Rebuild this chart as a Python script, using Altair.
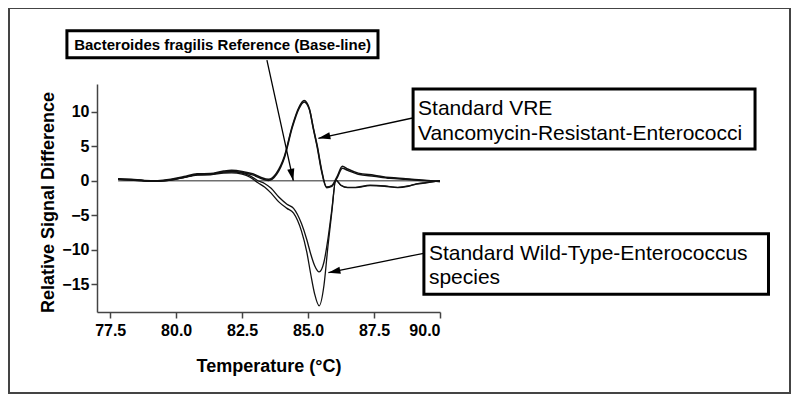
import math
import altair as alt
import pandas as pd

# ---------------- data ----------------
T_VRE = [77.8, 78.3, 78.8, 79.3, 79.8, 80.3, 80.8, 81.3, 81.8, 82.1, 82.5, 82.9, 83.2, 83.5,
         83.8, 84.1, 84.4, 84.65, 84.85, 85.05, 85.2, 85.35, 85.5, 85.7, 85.9, 86.1, 86.3,
         86.5, 86.9, 87.5, 88.1, 88.7, 89.3, 90.0]
VRE_A = [0.3, 0.2, 0.05, 0.0, 0.2, 0.6, 1.0, 1.05, 1.4, 1.5, 1.35, 1.0, 0.5, 0.2,
         1.1, 3.5, 7.9, 10.6, 11.6, 10.4, 7.6, 5.0, 1.8, -0.9, -0.7, 0.6, 2.1,
         1.7, 1.1, 0.8, 0.45, 0.3, 0.1, -0.1]
VRE_B = [0.2, 0.1, 0.0, -0.05, 0.1, 0.5, 0.9, 0.95, 1.25, 1.35, 1.2, 0.85, 0.35, 0.05,
         0.9, 3.3, 7.7, 10.4, 11.4, 10.3, 7.5, 4.8, 1.6, -1.0, -0.8, 0.4, 1.8,
         1.5, 0.95, 0.65, 0.35, 0.2, 0.05, -0.1]

T_WT = [77.8, 78.3, 78.8, 79.3, 79.8, 80.3, 80.8, 81.3, 81.8, 82.1, 82.5, 82.8, 83.1, 83.35,
        83.6, 83.9, 84.2, 84.45, 84.75, 84.95, 85.1, 85.25, 85.42, 85.6, 85.75, 85.9, 86.05,
        86.25, 86.5, 86.8, 87.35, 87.9, 88.4, 88.8, 89.1, 89.5, 90.0]
WT_A = [0.25, 0.15, 0.0, -0.05, 0.15, 0.5, 0.9, 0.95, 1.25, 1.3, 1.1, 0.7, 0.0, -0.4,
        -1.1, -2.4, -3.4, -4.0, -6.2, -8.5, -10.6, -12.3, -13.2, -11.8, -8.5, -4.2, 0.1,
        -0.7, -1.0, -1.0, -0.7, -0.8, -1.0, -0.8, -0.5, -0.3, 0.0]
WT_B = [0.2, 0.1, -0.05, -0.1, 0.1, 0.45, 0.8, 0.85, 1.1, 1.15, 0.95, 0.5, -0.3, -0.9,
        -1.8, -3.1, -4.0, -4.7, -7.3, -10.3, -13.5, -16.4, -18.1, -15.2, -9.6, -4.5, 0.1,
        -0.65, -0.95, -0.95, -0.65, -0.75, -0.95, -0.75, -0.45, -0.25, 0.0]

T_BASE = [77.8, 90.0]
BASE = [0.0, 0.0]

X_TICKS = [77.5, 80.0, 82.5, 85.0, 87.5, 90.0]
Y_TICKS = [-15, -10, -5, 0, 5, 10]
X_DOMAIN = [77, 90]
Y_DOMAIN = [-19, 14]

# annotation boxes (data units): x, x2, y, y2
BOX_X = [75.86, 88.98, 89.39]
BOX_X2 = [87.65, 101.94, 102.45]
BOX_Y = [21.70, 13.28, -7.68]
BOX_Y2 = [17.79, 4.59, -16.42]

LABEL_TEXT = ["Standard VRE", "Vancomycin-Resistant-Enterococci",
              "Standard Wild-Type-Enterococcus", "species"]
LABEL_X = [89.17, 89.17, 89.58, 89.58]
LABEL_Y = [9.51, 5.90, -11.47, -14.95]

REF_TEXT = ["Bacteroides fragilis Reference (Base-line)"]
REF_X = [81.76]
REF_Y = [18.92]

# arrows: tail -> tip (data units)
AR_X1 = [83.44, 88.96, 89.38]
AR_Y1 = [17.47, 9.08, -10.50]
AR_X2 = [84.44, 85.39, 85.77]
AR_Y2 = [0.0, 6.14, -13.31]

W, H = 343, 228
FONT = "Liberation Sans"

# ---------------- tables ----------------
rows = []
for name, t, ys in [("VRE a", T_VRE, VRE_A), ("VRE b", T_VRE, VRE_B)]:
    rows += [{"T": a, "S": b, "trace": name} for a, b in zip(t, ys)]
vre = pd.DataFrame(rows)
rows = []
for name, t, ys in [("WT a", T_WT, WT_A), ("WT b", T_WT, WT_B)]:
    rows += [{"T": a, "S": b, "trace": name} for a, b in zip(t, ys)]
wt = pd.DataFrame(rows)
base = pd.DataFrame({"T": T_BASE, "S": BASE})

boxes = pd.DataFrame({"x": BOX_X, "x2": BOX_X2, "y": BOX_Y, "y2": BOX_Y2})
labels = pd.DataFrame({"x": LABEL_X, "y": LABEL_Y, "t": LABEL_TEXT})
ref = pd.DataFrame({"x": REF_X, "y": REF_Y, "t": REF_TEXT})

kx = W / (X_DOMAIN[1] - X_DOMAIN[0])
ky = H / (Y_DOMAIN[1] - Y_DOMAIN[0])
HEAD = 12.0
heads = []
for x1, y1, x2, y2 in zip(AR_X1, AR_Y1, AR_X2, AR_Y2):
    dx = (x2 - x1) * kx
    dy = -(y2 - y1) * ky
    L = math.hypot(dx, dy)
    ux, uy = dx / L, dy / L
    ang = math.degrees(math.atan2(dy, dx)) % 360
    cx = x2 - ux * HEAD / 2 / kx
    cy = y2 + uy * HEAD / 2 / ky
    heads.append({"x": cx, "y": cy, "a": ang})
heads = pd.DataFrame(heads)
arrows = pd.DataFrame({"x": AR_X1, "y": AR_Y1, "x2": AR_X2, "y2": AR_Y2})

xs = alt.Scale(domain=X_DOMAIN, nice=False, zero=False)
ys = alt.Scale(domain=Y_DOMAIN, nice=False, zero=False)

x_axis = alt.Axis(values=X_TICKS, format=".1f", title="Temperature (°C)",
                  titleX=W / 2, titleY=59, titleBaseline="alphabetic", labelPadding=4)
y_axis = alt.Axis(values=Y_TICKS, format="d", title="Relative Signal Difference",
                  titleX=-44, titleY=118, titleBaseline="alphabetic", labelPadding=2)

frame = alt.Chart(pd.DataFrame({"k": [0]})).mark_rect(
    fillOpacity=0, stroke="#444444", strokeWidth=2
).encode(x=alt.value(-88), x2=alt.value(693), y=alt.value(-76), y2=alt.value(309))

baseline = alt.Chart(base).mark_line(color="#6f6f6f", strokeWidth=1.5).encode(
    x=alt.X("T:Q", scale=xs, axis=x_axis),
    y=alt.Y("S:Q", scale=ys, axis=y_axis),
)

vre_lines = alt.Chart(vre).mark_line(color="#111111", strokeWidth=1.5, interpolate="monotone").encode(
    x=alt.X("T:Q", scale=xs), y=alt.Y("S:Q", scale=ys), detail="trace:N")
wt_lines = alt.Chart(wt).mark_line(color="#111111", strokeWidth=1.3, interpolate="monotone").encode(
    x=alt.X("T:Q", scale=xs), y=alt.Y("S:Q", scale=ys), detail="trace:N")

box_marks = alt.Chart(boxes).mark_rect(fill="white", stroke="black", strokeWidth=3).encode(
    x=alt.X("x:Q", scale=xs), x2="x2:Q", y=alt.Y("y:Q", scale=ys), y2="y2:Q")

label_marks = alt.Chart(labels).mark_text(
    align="left", baseline="alphabetic", font=FONT, fontSize=21, color="black"
).encode(x=alt.X("x:Q", scale=xs), y=alt.Y("y:Q", scale=ys), text="t:N")

ref_mark = alt.Chart(ref).mark_text(
    align="center", baseline="alphabetic", font=FONT, fontSize=15, fontWeight="bold", color="black"
).encode(x=alt.X("x:Q", scale=xs), y=alt.Y("y:Q", scale=ys), text="t:N")

arrow_lines = alt.Chart(arrows).mark_rule(color="black", strokeWidth=1.3).encode(
    x=alt.X("x:Q", scale=xs), y=alt.Y("y:Q", scale=ys), x2="x2:Q", y2="y2:Q")

arrow_heads = alt.Chart(heads).mark_point(
    shape="M1,0L-1,-0.6L-1,0.6Z", filled=True, color="black", opacity=1, size=HEAD * HEAD
).encode(x=alt.X("x:Q", scale=xs), y=alt.Y("y:Q", scale=ys), angle=alt.Angle("a:Q", scale=None))

chart = alt.layer(
    frame, baseline, wt_lines, vre_lines, arrow_lines, arrow_heads, box_marks, label_marks, ref_mark
).properties(
    width=W, height=H,
    padding={"left": 89, "top": 76, "right": 351, "bottom": 84},
    autosize=alt.AutoSizeParams(type="none"),
    background="white",
).configure_view(strokeWidth=0).configure_axis(
    grid=False,
    domainColor="#444444", domainWidth=1.5,
    tickColor="#444444", tickWidth=1.5, tickSize=6,
    labelFont=FONT, labelFontWeight="bold", labelFontSize=16, labelColor="black",
    titleFont=FONT, titleFontWeight="bold", titleFontSize=18, titleColor="black",
)

chart.save("out.html", embed_options={"renderer": "svg", "actions": False})
